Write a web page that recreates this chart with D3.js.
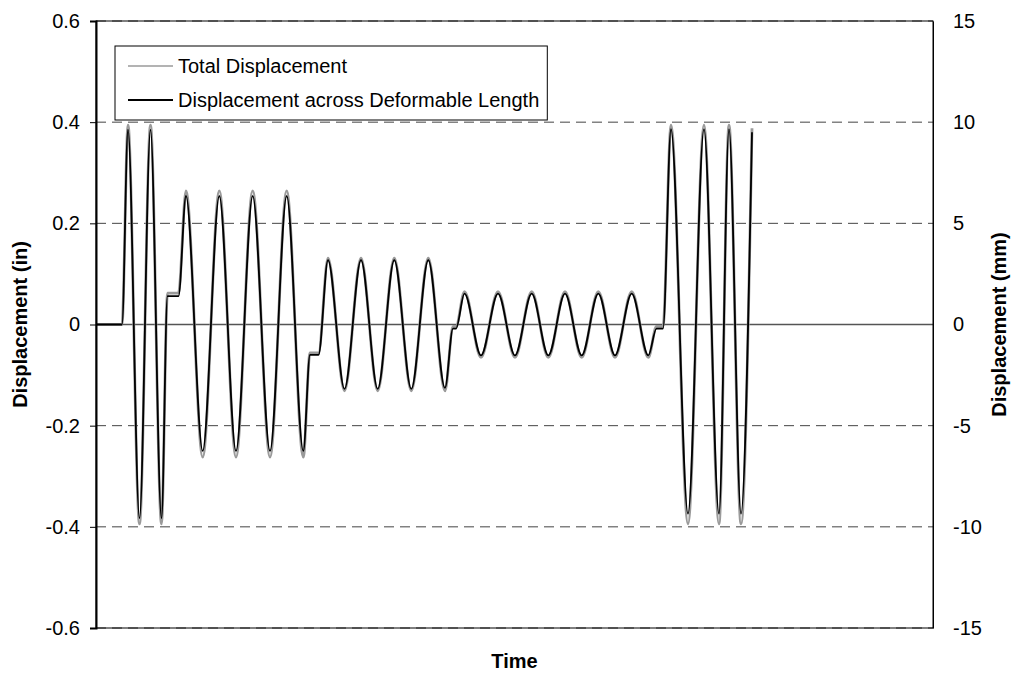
<!DOCTYPE html>
<html>
<head>
<meta charset="utf-8">
<script src="https://cdn.jsdelivr.net/npm/d3@7"></script>
<style>
  html, body { margin: 0; padding: 0; background: #fff; }
  svg text { font-family: "Liberation Sans", Arial, sans-serif; }
</style>
</head>
<body>
<svg id="chart" width="1015" height="677"></svg>
<script>
// ---- data (time in arbitrary units) ----
const time = [0, 26, 32, 43.5, 54.5, 65.5, 71.5, 82.5,
  90, 106.7, 123.3, 140, 156.7, 174, 190.7, 207.3,
  214, 222.5,
  232, 248.5, 265, 281.7, 298.3, 315.3, 332.3, 349,
  357, 360,
  368.5, 385, 402, 419, 435.7, 452.3, 469, 485.7, 502.3, 519, 535.7, 552.3,
  560.5, 567,
  575, 592, 608, 623, 633, 645, 656];
const deformDisp = [0, 0, 0.385, -0.383, 0.385, -0.383, 0.056, 0.056,
  0.254, -0.25, 0.254, -0.25, 0.254, -0.25, 0.254, -0.25,
  -0.06, -0.06,
  0.127, -0.127, 0.127, -0.127, 0.127, -0.127, 0.127, -0.125,
  -0.008, -0.008,
  0.061, -0.061, 0.061, -0.061, 0.061, -0.061, 0.061, -0.061, 0.061, -0.061, 0.061, -0.061,
  -0.008, -0.008,
  0.386, -0.374, 0.386, -0.374, 0.386, -0.374, 0.38];
const totalDisp = [0, 0, 0.394, -0.394, 0.394, -0.394, 0.062, 0.062,
  0.264, -0.262, 0.264, -0.262, 0.264, -0.262, 0.264, -0.262,
  -0.056, -0.056,
  0.131, -0.131, 0.131, -0.131, 0.131, -0.131, 0.131, -0.131,
  -0.004, -0.004,
  0.065, -0.065, 0.065, -0.065, 0.065, -0.065, 0.065, -0.065, 0.065, -0.065, 0.065, -0.065,
  -0.004, -0.004,
  0.394, -0.394, 0.394, -0.394, 0.394, -0.394, 0.388];
const leftTicks = [0.6, 0.4, 0.2, 0, -0.2, -0.4, -0.6];
const leftTickLabels = ["0.6", "0.4", "0.2", "0", "-0.2", "-0.4", "-0.6"];
const rightTicks = [15, 10, 5, 0, -5, -10, -15];
const rightTickLabels = ["15", "10", "5", "0", "-5", "-10", "-15"];
const seriesNames = ["Total Displacement", "Displacement across Deformable Length"];
const timeDomain = [0, 837];

// ---- layout ----
const L = 96, R = 933, T = 21, B = 628;
const FS = 20;
const svg = d3.select("#chart");

const x = d3.scaleLinear().domain(timeDomain).range([L, R]);
const y = d3.scaleLinear().domain([-0.6, 0.6]).range([B, T]);
const y2 = d3.scaleLinear().domain([-15, 15]).range([B, T]);

// gridlines (dashed)
svg.append("g").selectAll("line")
  .data(leftTicks.filter(d => d !== 0))
  .join("line")
  .attr("x1", L).attr("x2", R)
  .attr("y1", d => y(d)).attr("y2", d => y(d))
  .attr("stroke", "#444").attr("stroke-width", 1)
  .attr("stroke-dasharray", "10,6");

// zero line (horizontal axis)
svg.append("line")
  .attr("x1", L).attr("x2", R).attr("y1", y(0)).attr("y2", y(0))
  .attr("stroke", "#555").attr("stroke-width", 1.3);

// plot border
svg.append("rect")
  .attr("x", L).attr("y", T).attr("width", R - L).attr("height", B - T)
  .attr("fill", "none").attr("stroke", "#000").attr("stroke-width", 1);

// series
const line = (vals) => d3.line()
  .x((d, i) => x(time[i]))
  .y(d => y(d))
  .curve(d3.curveMonotoneX)(vals);

svg.append("path").attr("d", line(totalDisp))
  .attr("fill", "none").attr("stroke", "#9a9a9a").attr("stroke-width", 2.8);
svg.append("path").attr("d", line(deformDisp))
  .attr("fill", "none").attr("stroke", "#000").attr("stroke-width", 1.8);

// left axis
const gL = svg.append("g").attr("transform", `translate(${L},0)`)
  .call(d3.axisLeft(y).tickValues(leftTicks).tickSize(6).tickPadding(10)
    .tickFormat((d, i) => leftTickLabels[i]));
gL.select(".domain").attr("stroke", "#000").attr("stroke-width", 2);
gL.selectAll(".tick line").attr("stroke", "#000");
gL.selectAll("text").attr("font-size", FS).attr("fill", "#000")
  .style("font-family", '"Liberation Sans", Arial, sans-serif');

// right axis
const gR = svg.append("g").attr("transform", `translate(${R},0)`)
  .call(d3.axisRight(y2).tickValues(rightTicks).tickSize(0).tickPadding(20)
    .tickFormat((d, i) => rightTickLabels[i]));
gR.select(".domain").attr("stroke", "#000").attr("stroke-width", 1);
gR.selectAll("text").attr("font-size", FS).attr("fill", "#000")
  .style("font-family", '"Liberation Sans", Arial, sans-serif');

// axis titles
svg.append("text")
  .attr("transform", `translate(27,${(T + B) / 2}) rotate(-90)`)
  .attr("text-anchor", "middle")
  .attr("font-size", FS).attr("font-weight", "bold")
  .text("Displacement (in)");
svg.append("text")
  .attr("transform", `translate(1006,${(T + B) / 2}) rotate(-90)`)
  .attr("text-anchor", "middle")
  .attr("font-size", FS).attr("font-weight", "bold")
  .text("Displacement (mm)");
svg.append("text")
  .attr("x", (L + R) / 2).attr("y", 668)
  .attr("text-anchor", "middle")
  .attr("font-size", FS).attr("font-weight", "bold")
  .text("Time");

// legend
const lg = svg.append("g");
const legBox = lg.append("rect")
  .attr("x", 115).attr("y", 46).attr("height", 74)
  .attr("fill", "#fff").attr("stroke", "#000").attr("stroke-width", 1);
const legColors = ["#9a9a9a", "#000"];
const legWidths = [1.5, 1.8];
let maxW = 0;
seriesNames.forEach((name, i) => {
  const cy = 66 + i * 34;
  lg.append("line").attr("x1", 128).attr("x2", 173).attr("y1", cy).attr("y2", cy)
    .attr("stroke", legColors[i]).attr("stroke-width", legWidths[i]);
  const t = lg.append("text").attr("x", 178).attr("y", cy).attr("dy", "0.35em")
    .attr("font-size", FS).attr("fill", "#000").text(name);
  maxW = Math.max(maxW, t.node().getComputedTextLength());
});
legBox.attr("width", 178 + maxW + 8 - 115);
</script>
</body>
</html>
